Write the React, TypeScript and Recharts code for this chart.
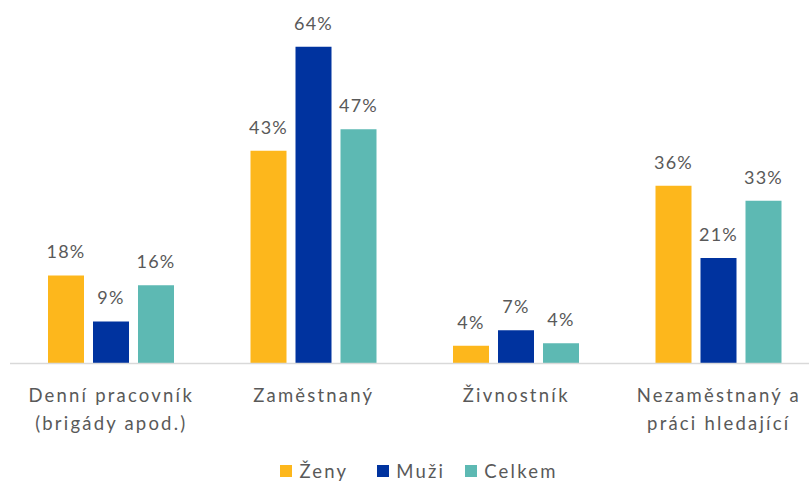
import React from 'react';
import { BarChart, Bar, XAxis, YAxis, Legend, LabelList } from 'recharts';

const categories = ['Denní pracovník\n(brigády apod.)', 'Zaměstnaný', 'Živnostník', 'Nezaměstnaný a\npráci hledající'];
const zeny = [17.8, 43.0, 3.6, 35.9];
const muzi = [8.5, 64.0, 6.7, 21.3];
const celkem = [15.8, 47.3, 4.1, 32.9];

const seriesNames = ['Ženy', 'Muži', 'Celkem'];
const colors = ['#FDB71C', '#00339F', '#5DB9B3'];
const legendGaps = [29, 20, 0];

const data = categories.map((c, i) => ({ name: c, zeny: zeny[i], muzi: muzi[i], celkem: celkem[i] }));

const FONT = 'Lato, "Open Sans", sans-serif';
const TEXT = '#595959';

const CategoryTick = (props: any) => {
  const { x, y, payload } = props;
  const lines = String(payload.value).split('\n');
  return (
    <g>
      {lines.map((l, i) => (
        <text key={i} x={x} y={y + 38 + i * 28} textAnchor="middle" fill={TEXT}
          fontSize={18.5} fontFamily={FONT} letterSpacing={2.2}>
          {l}
        </text>
      ))}
    </g>
  );
};

const pct = (v: any) => `${Math.round(Number(v))}%`;

const LegendContent = () => (
  <div style={{ display: 'flex', justifyContent: 'center', alignItems: 'center', height: 22, paddingLeft: 8 }}>
    {seriesNames.map((n, i) => (
      <div key={n} style={{ display: 'flex', alignItems: 'center', marginRight: legendGaps[i] }}>
        <span style={{ width: 12, height: 12, background: colors[i], display: 'inline-block', marginRight: 7 }} />
        <span style={{ fontFamily: FONT, fontSize: 18.5, color: TEXT, letterSpacing: 2.2 }}>{n}</span>
      </div>
    ))}
  </div>
);

const App: React.FC = () => (
  <div style={{ position: 'absolute', left: 0, top: 0, width: 809, height: 482, overflow: 'hidden', background: '#fff' }}>
    <BarChart width={830} height={482} data={data} margin={{ top: 17, right: 10, left: 10, bottom: 0 }}
      barSize={36} barGap={9}>
      <XAxis dataKey="name" height={96.5} tickSize={0} tickMargin={0} tickLine={false}
        axisLine={{ stroke: '#D9D9D9', strokeWidth: 1.5 }} tick={<CategoryTick />} interval={0} />
      <YAxis hide domain={[0, 70]} />
      <Legend verticalAlign="bottom" content={<LegendContent />} />
      <Bar dataKey="zeny" name="Ženy" fill={colors[0]} isAnimationActive={false}>
        <LabelList dataKey="zeny" position="top" offset={17} formatter={pct} fill={TEXT} fontSize={18} fontFamily={FONT} letterSpacing={1.2} />
      </Bar>
      <Bar dataKey="muzi" name="Muži" fill={colors[1]} isAnimationActive={false}>
        <LabelList dataKey="muzi" position="top" offset={17} formatter={pct} fill={TEXT} fontSize={18} fontFamily={FONT} letterSpacing={1.2} />
      </Bar>
      <Bar dataKey="celkem" name="Celkem" fill={colors[2]} isAnimationActive={false}>
        <LabelList dataKey="celkem" position="top" offset={17} formatter={pct} fill={TEXT} fontSize={18} fontFamily={FONT} letterSpacing={1.2} />
      </Bar>
    </BarChart>
  </div>
);

export default App;
